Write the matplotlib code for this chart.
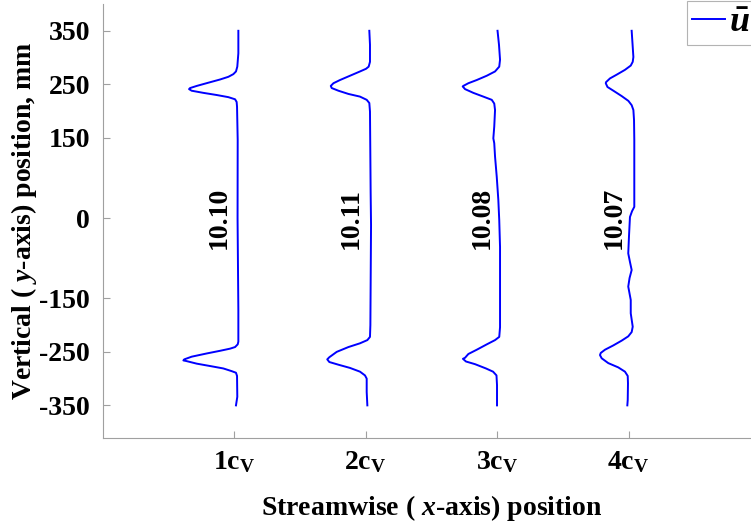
import matplotlib.pyplot as plt
import numpy as np

# stations (in chord lengths c_V) and profile data
stations = [1, 2, 3, 4]
xtick_labels = [r'1c$_{\mathbf{V}}$', r'2c$_{\mathbf{V}}$', r'3c$_{\mathbf{V}}$', r'4c$_{\mathbf{V}}$']
mean_labels = ['10.10', '10.11', '10.08', '10.07']
yticks = [-350, -250, -150, 0, 150, 250, 350]

# y position (mm) and horizontal deflection of each profile from its station
y_1 = [350, 308, 283, 274, 269, 264, 259, 253, 247, 243, 241, 238, 234, 230, 226, 222, 217, 208, 146, 0,
       -172, -231, -236, -241, -244, -248, -253, -259, -264, -266, -267, -272, -277, -281, -286, -289,
       -295, -334, -350]
u_1 = [0.033, 0.033, 0.025, 0.015, -0.005, -0.043, -0.106, -0.195, -0.283, -0.334, -0.342, -0.322,
       -0.233, -0.132, -0.043, 0.008, 0.020, 0.023, 0.028, 0.027,
       0.033, 0.033, 0.028, 0.008, -0.030, -0.106, -0.208, -0.322, -0.378, -0.385, -0.365, -0.284,
       -0.170, -0.081, -0.018, 0.015, 0.023, 0.025, 0.015]

y_2 = [350, 324, 292, 283, 279, 274, 266, 258, 252, 247, 243, 238, 232, 227, 221, 215, 199, 49, -13,
       -200, -222, -228, -234, -241, -250, -260, -264, -269, -274, -280, -287, -294, -300, -325, -350]
u_2 = [0.029, 0.034, 0.034, 0.024, 0.004, -0.042, -0.118, -0.194, -0.244, -0.264, -0.257, -0.206,
       -0.130, -0.042, 0.009, 0.029, 0.034, 0.039, 0.042, 0.037, 0.034, 0.014, -0.042, -0.130, -0.219,
       -0.275, -0.291, -0.275, -0.206, -0.118, -0.042, -0.004, 0.009, 0.009, 0.014]

y_3 = [350, 324, 296, 283, 274, 266, 258, 252, 247, 246, 241, 234, 227, 221, 214, 202, 171, 149, 140,
       115, 77, 34, -4, -54, -204, -222, -228, -236, -246, -254, -261, -263, -268, -273, -281, -287,
       -294, -312, -350]
u_3 = [0.004, 0.015, 0.023, 0.017, -0.015, -0.078, -0.154, -0.218, -0.256, -0.261, -0.243, -0.180,
       -0.104, -0.040, -0.021, -0.015, -0.021, -0.028, -0.021, -0.015, -0.002, 0.010, 0.017, 0.023,
       0.023, 0.017, -0.015, -0.078, -0.154, -0.218, -0.243, -0.259, -0.236, -0.167, -0.084, -0.030,
       -0.004, 0.000, 0.000]

y_4 = [350, 320, 301, 292, 285, 277, 268, 261, 254, 252, 245, 238, 228, 219, 211, 202, 183, 146, 21,
       13, 2, -32, -66, -82, -97, -112, -128, -153, -178, -203, -213, -221, -229, -238, -246, -252,
       -256, -262, -271, -279, -287, -295, -309, -340, -350]
u_4 = [0.024, 0.032, 0.037, 0.032, 0.017, -0.027, -0.090, -0.141, -0.171, -0.173, -0.160, -0.115,
       -0.052, -0.001, 0.024, 0.037, 0.042, 0.044, 0.044, 0.027, 0.011, 0.004, -0.002, 0.011, 0.024,
       0.008, -0.002, 0.017, 0.017, 0.032, 0.024, -0.002, -0.052, -0.116, -0.179, -0.211, -0.217,
       -0.204, -0.154, -0.078, -0.027, -0.006, -0.004, -0.006, -0.009]

profiles = [(y_1, u_1), (y_2, u_2), (y_3, u_3), (y_4, u_4)]

plt.rcParams['font.family'] = 'Liberation Serif'
plt.rcParams['font.weight'] = 'bold'
plt.rcParams['mathtext.fontset'] = 'custom'
plt.rcParams['mathtext.rm'] = 'Liberation Serif:bold'
plt.rcParams['mathtext.bf'] = 'Liberation Serif:bold'
plt.rcParams['mathtext.it'] = 'Liberation Serif:italic:bold'

fontsize = 20
spine_color = '#a0a0a0'

fig = plt.figure(figsize=(7.51, 5.31), dpi=100)
ax = fig.add_axes([0.1365, 0.1751, 0.8755, 0.8173])

for k, (yy, uu) in enumerate(profiles):
    xs = stations[k] + np.array(uu)
    ax.plot(xs, yy, color='b', linewidth=1.4, label=r'$\bar{u}$' if k == 0 else None)
    ax.text(stations[k] - 0.11, 0, mean_labels[k], rotation=90, ha='center', va='center',
            fontsize=fontsize, fontweight='bold')

ax.set_xlim(0, 5)
ax.set_ylim(-411, 400)
ax.set_xticks(stations)
ax.set_xticklabels(xtick_labels, fontsize=fontsize)
ax.set_yticks(yticks)
ax.set_yticklabels([str(v) for v in yticks], fontsize=fontsize)

ax.tick_params(direction='in', length=5, color=spine_color, width=0.8)
ax.tick_params(axis='x', pad=8)
ax.tick_params(axis='y', pad=9)
for side in ['top', 'right']:
    ax.spines[side].set_visible(False)
for side in ['left', 'bottom']:
    ax.spines[side].set_color(spine_color)
    ax.spines[side].set_linewidth(0.8)

ax.set_xlabel(r'Streamwise ( $x$-axis) position', fontsize=fontsize, fontweight='bold', labelpad=13)
ax.set_ylabel(r'Vertical ( $y$-axis) position, mm', fontsize=fontsize, fontweight='bold', labelpad=0)

leg = ax.legend(loc='upper left', bbox_to_anchor=(687 / 751, 1 - 1 / 531), bbox_transform=fig.transFigure,
                fontsize=26, frameon=True, fancybox=False, borderpad=0.15, handlelength=0.9,
                handletextpad=0.1, borderaxespad=0)
leg.get_frame().set_edgecolor(spine_color)
leg.get_frame().set_linewidth(0.8)

plt.savefig('out.png', dpi=100)
plt.close()
